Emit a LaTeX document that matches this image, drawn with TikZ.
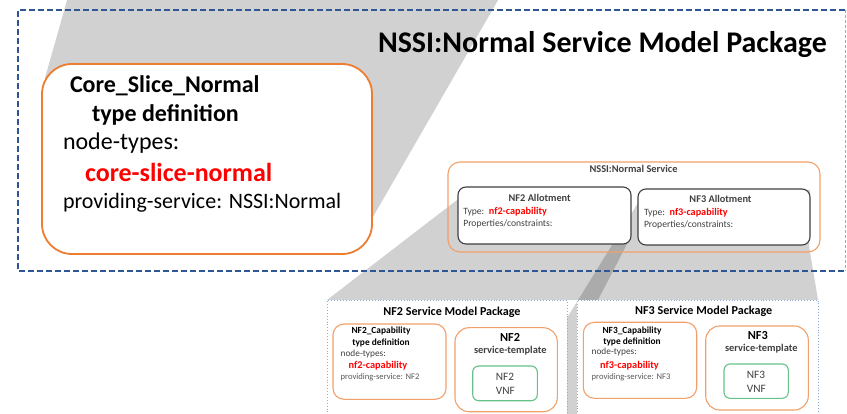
\documentclass[tikz,border=0pt]{standalone}
\usepackage{fontspec}
\setmainfont{Carlito}
\newcommand\fsz[1]{\fontsize{#1}{#1}\selectfont}
\definecolor{orangeS}{HTML}{ED7D31}
\definecolor{orangeL}{HTML}{F2A06A}
\definecolor{dashblue}{HTML}{2F5597}
\definecolor{dotblue}{HTML}{8FAADC}
\definecolor{vnfgreen}{HTML}{66C28A}
\definecolor{txtgray}{HTML}{404040}
\definecolor{txtlight}{HTML}{595959}
\begin{document}
\begin{tikzpicture}[x=1pt,y=-1pt,
  grayproj/.style={fill=black,fill opacity=0.18,draw=none},
  boxbase/.style={rectangle,inner sep=0pt,fill=white},
  corebox/.style={boxbase,draw=orangeS,line width=1.8pt,rounded corners=30pt},
  svcbox/.style={rectangle,inner sep=0pt,draw=orangeL,line width=1.1pt,rounded corners=12pt},
  allotbox/.style={boxbase,draw=txtgray,line width=1.1pt,rounded corners=8pt},
  pkgbox/.style={boxbase,draw=dotblue,line width=0.9pt,dotted},
  smallbox/.style={boxbase,draw=orangeL,line width=1.1pt,rounded corners=11pt},
  tmplbox/.style={boxbase,draw=orangeL,line width=1.1pt,rounded corners=14pt},
  vnfbox/.style={boxbase,draw=vnfgreen,line width=1.1pt,rounded corners=6pt},
  txt/.style={inner sep=0pt,outer sep=0pt},
  lw/.style={txt,anchor=base west},
  ctr/.style={txt,anchor=base}
]
\useasboundingbox (0,0) rectangle (847,414);
% gray projection shapes
\fill[grayproj] (68.5,-5) -- (501,-5) -- (366,229) -- (360,245) -- (50,245) -- (45,78) -- cycle;
\fill[grayproj] (470,190) -- (630,190) -- (627,244) -- (598,300) -- (327,300) -- cycle;
\fill[grayproj] (646,190) -- (810,190) -- (809,246) -- (818,300) -- (818,420) -- (504,420) -- cycle;

% outer dashed package
\node[rectangle,inner sep=0pt,minimum width=826.5pt,minimum height=261pt] (nssi) at (431.75,140.5) {};
\draw[dashblue,line width=1.8pt,dash pattern=on 6pt off 3pt]
  (nssi.north east) -- (nssi.north west) -- (nssi.south west) -- (nssi.south east);
\draw[dotblue,line width=0.9pt,dash pattern=on 3pt off 2pt] (nssi.north east) -- (nssi.south east);
\node[lw,font={\fsz{30}\bfseries}] (title) at (378,53) {NSSI:Normal Service Model Package};

% core slice box
\node[corebox,minimum width=330pt,minimum height=190pt] (core) at (207,159) {};
\node[lw,font={\fsz{24}\bfseries}] (c1) at (70,93) {Core\_Slice\_Normal};
\node[lw,font={\fsz{24}\bfseries}] (c2) at (92,122) {type definition};
\node[lw,font={\fsz{24}}] (c3) at (63,150) {node-types:};
\node[lw,font={\fsz{26}\bfseries},text=red] (c4) at (85,182) {core-slice-normal};
\node[lw,font={\fsz{22}}] (c5) at (63,209) {providing-service: NSSI:Normal};

% NSSI:Normal Service
\node[svcbox,minimum width=372pt,minimum height=90pt] (svc) at (634,207) {};
\node[ctr,font={\fsz{10.4}\bfseries},text=txtgray] (svct) at (633.5,172.7) {NSSI:Normal Service};
\node[allotbox,minimum width=173pt,minimum height=57pt] (al2) at (544.5,215.5) {};
\node[allotbox,minimum width=172pt,minimum height=56pt] (al3) at (724,217) {};
\node[ctr,font={\fsz{10.3}\bfseries},text=txtgray] (al2t) at (539.7,201.7) {NF2 Allotment};
\node[lw,font={\fsz{9.6}},text=txtgray] (al2a) at (463.3,215) {Type:\hspace{4.6pt}\textcolor{red}{\fsz{10.2}\bfseries nf2-capability}};
\node[lw,font={\fsz{9.6}},text=txtgray] (al2b) at (463.3,226.7) {Properties/constraints:};
\node[ctr,font={\fsz{10.3}\bfseries},text=txtgray] (al3t) at (720.5,202.7) {NF3 Allotment};
\node[lw,font={\fsz{9.6}},text=txtgray] (al3a) at (644,216) {Type:\hspace{4.6pt}\textcolor{red}{\fsz{10.2}\bfseries nf3-capability}};
\node[lw,font={\fsz{9.6}},text=txtgray] (al3b) at (644,227.7) {Properties/constraints:};

% NF2 package
\node[pkgbox,minimum width=239.5pt,minimum height=120pt] (p2) at (447.25,360) {};
\node[ctr,font={\fsz{12.1}\bfseries}] (p2t) at (452,315.7) {NF2 Service Model Package};
\node[smallbox,minimum width=113pt,minimum height=75.3pt] (cap2) at (389.5,361.65) {};
\node[ctr,font={\fsz{9.4}\bfseries}] (cap2a) at (381,334) {NF2\_Capability};
\node[ctr,font={\fsz{9.4}\bfseries}] (cap2b) at (381,345.5) {type definition};
\node[lw,font={\fsz{9.3}},text=txtgray] (cap2c) at (340.7,357) {node-types:};
\node[ctr,font={\fsz{10.3}\bfseries},text=red] (cap2d) at (378,369) {nf2-capability};
\node[lw,font={\fsz{8.6}},text=txtlight] (cap2e) at (340.7,380) {providing-service: NF2};
\node[tmplbox,minimum width=102.3pt,minimum height=84pt] (st2) at (506.15,369.7) {};
\node[ctr,font={\fsz{12.3}\bfseries}] (st2a) at (510,341.7) {NF2};
\node[ctr,font={\fsz{10.4}\bfseries},text=txtgray] (st2b) at (510.3,353.3) {service-template};
\node[vnfbox,minimum width=64.6pt,minimum height=34.7pt] (v2) at (505,383.35) {};
\node[ctr,font={\fsz{11.3}},text=txtgray] (v2a) at (505,380.7) {NF2};
\node[ctr,font={\fsz{11.3}},text=txtgray] (v2b) at (505.3,395) {VNF};

% NF3 package
\node[pkgbox,minimum width=241pt,minimum height=120pt] (p3) at (697.5,360) {};
\node[ctr,font={\fsz{12.1}\bfseries}] (p3t) at (703.7,315) {NF3 Service Model Package};
\node[smallbox,minimum width=113.4pt,minimum height=76pt] (cap3) at (640,360.3) {};
\node[ctr,font={\fsz{9.4}\bfseries}] (cap3a) at (632,333.3) {NF3\_Capability};
\node[ctr,font={\fsz{9.4}\bfseries}] (cap3b) at (632,344.3) {type definition};
\node[lw,font={\fsz{9.3}},text=txtgray] (cap3c) at (591.7,355) {node-types:};
\node[ctr,font={\fsz{10.3}\bfseries},text=red] (cap3d) at (629.5,368.3) {nf3-capability};
\node[lw,font={\fsz{8.6}},text=txtlight] (cap3e) at (591.7,379.3) {providing-service: NF3};
\node[tmplbox,minimum width=102.6pt,minimum height=84pt] (st3) at (757,368) {};
\node[ctr,font={\fsz{12.3}\bfseries}] (st3a) at (757.8,339.3) {NF3};
\node[ctr,font={\fsz{10.4}\bfseries},text=txtgray] (st3b) at (761.3,351.7) {service-template};
\node[vnfbox,minimum width=64.3pt,minimum height=34.3pt] (v3) at (756.15,381.15) {};
\node[ctr,font={\fsz{11.3}},text=txtgray] (v3a) at (756,378.3) {NF3};
\node[ctr,font={\fsz{11.3}},text=txtgray] (v3b) at (756.3,392.3) {VNF};
\end{tikzpicture}
\end{document}
